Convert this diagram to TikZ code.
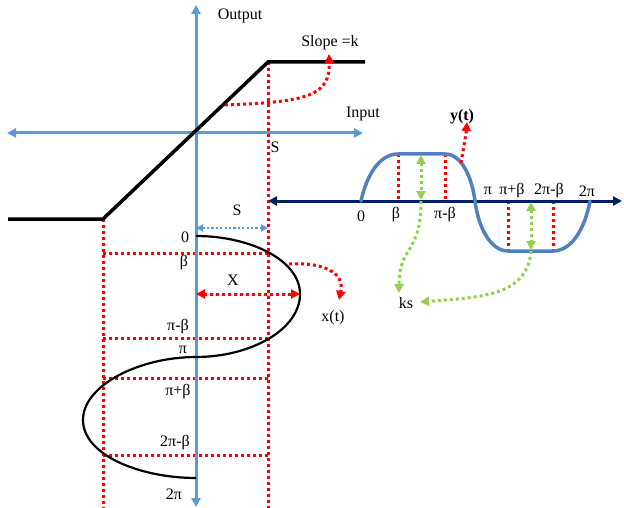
\documentclass[tikz,border=0pt]{standalone}
\usepackage{fontspec}
\setmainfont{Liberation Serif}
\usetikzlibrary{arrows.meta}
\definecolor{axblue}{HTML}{5B9BD5}
\definecolor{curveblue}{HTML}{4F81BD}
\definecolor{navyax}{HTML}{002060}
\definecolor{lgreen}{HTML}{92D050}
\tikzset{
  Tri/.tip={Triangle[length=9pt,width=9pt]},
  STri/.tip={Triangle[length=7pt,width=7pt]},
}
\begin{document}
\begin{tikzpicture}[x=1pt,y=-1pt,
  lbl/.style={font=\fontsize{16}{18}\selectfont, inner sep=0pt},
  axisline/.style={draw=axblue, line width=3pt},
  reddot/.style={draw=red, line width=3pt, dash pattern=on 3pt off 3pt},
  greendot/.style={draw=lgreen, line width=3pt, dash pattern=on 3pt off 3pt},
  bluedot/.style={draw=axblue, line width=2.2pt, dash pattern=on 2.2pt off 2.2pt},
  blackline/.style={draw=black, line width=3.5pt},
  incurve/.style={draw=black, line width=2.2pt},
  outcurve/.style={draw=curveblue, line width=3.5pt, line cap=round},
]
\useasboundingbox (0,0) rectangle (624,508);

% ---- key coordinates ----
\coordinate (o) at (196,133);
\coordinate (vtop) at (196,5);
\coordinate (vbot) at (196,507);
\coordinate (hleft) at (7,133);
\coordinate (hright) at (363,133);
\coordinate (tl) at (8,219);
\coordinate (tb) at (103,219);
\coordinate (tt) at (268,62);
\coordinate (tr) at (365,62);
\coordinate (tbb) at (103,508);
\coordinate (ttb) at (268,508);
\coordinate (nl) at (268,201);
\coordinate (nr) at (622,201);

% ---- red dotted guide lines (left) ----
\draw[reddot] (tt) -- (ttb);
\draw[reddot] (tb) -- (tbb);
\foreach \yy/\nm in {253/a,338/b,378/c,455/d}{
  \coordinate (gl\nm) at (103,\yy);
  \coordinate (gr\nm) at (268,\yy);
  \draw[reddot] (gl\nm) -- (gr\nm);
}

% ---- red dotted guide lines (right) ----
\coordinate (b1t) at (398,154); \coordinate (b1b) at (398,201);
\coordinate (b2t) at (445,154); \coordinate (b2b) at (445,201);
\coordinate (b3t) at (508,201); \coordinate (b3b) at (508,251);
\coordinate (b4t) at (553,201); \coordinate (b4b) at (553,251);
\draw[reddot] (b1t) -- (b1b);
\draw[reddot] (b2t) -- (b2b);
\draw[reddot] (b3t) -- (b3b);
\draw[reddot] (b4t) -- (b4b);

% ---- axes ----
\draw[axisline, Tri-Tri] (vbot) -- (vtop);
\draw[axisline, Tri-Tri] (hleft) -- (hright);
\draw[draw=navyax, line width=3pt, Tri-Tri] (nl) -- (nr);

% ---- transfer characteristic ----
\draw[blackline] (tl) -- (tb) -- (tt) -- (tr);

% ---- input sinusoid x(t) ----
\coordinate (x0) at (196,236);
\coordinate (xmax) at (300,294);
\coordinate (xpi) at (196,357);
\coordinate (xmin) at (83,420);
\coordinate (x2pi) at (196,478);
\draw[incurve] (x0) .. controls (250,236) and (300,260) .. (xmax)
  .. controls (300,330) and (250,357) .. (xpi)
  .. controls (140,357) and (83,385) .. (xmin)
  .. controls (83,455) and (140,478) .. (x2pi);

% ---- output y(t) ----
\coordinate (y0) at (361,201);
\coordinate (ypi) at (475,201);
\coordinate (y2pi) at (590,201);
\draw[outcurve] (y0) .. controls (367,174) and (380,154) .. (b1t) -- (b2t)
  .. controls (462,154) and (472,178) .. (ypi)
  .. controls (478,226) and (490,251) .. (b3b) -- (b4b)
  .. controls (572,251) and (585,228) .. (y2pi);

% ---- labels ----
\node[lbl] (output) at (240,16) {Output};
\node[lbl] (slope) at (330,43) {Slope =k};
\node[lbl] (input) at (363,114) {Input};
\node[lbl] (s1) at (275,147) {S};
\node[lbl] (s2) at (237,210) {S};
\node[lbl] (xl) at (233,280) {X};
\node[lbl] (xt) at (333,318) {x(t)};
\node[lbl,font=\fontsize{16}{18}\selectfont\bfseries] (yt) at (462,117) {y(t)};
\node[lbl] (ks) at (406,303) {ks};

\node[lbl] (v0) at (185,237) {0};
\node[lbl] (vb) at (184,263) {β};
\node[lbl] (vpb) at (178,327) {π-β};
\node[lbl] (vpi) at (183,350) {π};
\node[lbl] (vppb) at (178,392) {π+β};
\node[lbl] (v2pb) at (175,443) {2π-β};
\node[lbl] (v2p) at (174,494) {2π};

\node[lbl] (h0) at (361,216) {0};
\node[lbl] (hb) at (396,215) {β};
\node[lbl] (hpb) at (445,215) {π-β};
\node[lbl] (hpi) at (488,191) {π};
\node[lbl] (hppb) at (512,191) {π+β};
\node[lbl] (h2pb) at (549,191) {2π-β};
\node[lbl] (h2p) at (587,191) {2π};

% ---- annotation arrows ----
\coordinate (sa) at (225,105);
\coordinate (sb) at (329,54);
\draw[reddot, -Tri] (sa) .. controls (310,102) and (330,95) .. (sb);

\coordinate (xa) at (289,264);
\coordinate (xb) at (339,300);
\draw[reddot, -Tri] (xa) .. controls (322,262) and (345,272) .. (xb);

\coordinate (ya) at (461,163);
\coordinate (yb) at (467,122);
\draw[reddot, -Tri] (ya) .. controls (464,145) and (466,135) .. (yb);

\coordinate (xs) at (196,294);
\draw[reddot, Tri-Tri] (xs) -- (xmax);

\coordinate (sl) at (196,228);
\coordinate (sr) at (268,228);
\draw[bluedot, STri-STri] (sl) -- (sr);

\coordinate (g1t) at (421,155);
\coordinate (g1b) at (421,200);
\coordinate (g2t) at (531,202);
\coordinate (g2b) at (531,250);
\draw[greendot, Tri-Tri] (g1t) -- (g1b);
\draw[greendot, Tri-Tri] (g2t) -- (g2b);
\coordinate (ga) at (421,201);
\coordinate (gk1) at (399,293);
\draw[greendot, -Tri] (ga) .. controls (421,255) and (399,245) .. (gk1);
\coordinate (gb) at (531,251);
\coordinate (gk2) at (420,302);
\draw[greendot, -Tri] (gb) .. controls (527,297) and (480,297) .. (gk2);
\end{tikzpicture}
\end{document}
